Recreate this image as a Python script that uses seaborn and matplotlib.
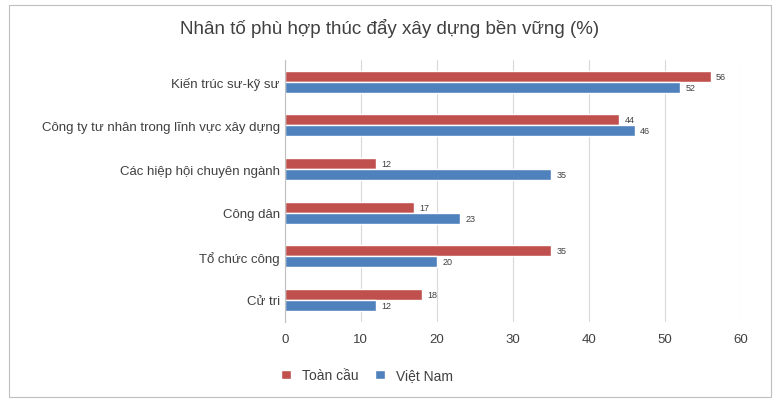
import matplotlib
matplotlib.use("Agg")
import matplotlib.pyplot as plt
import seaborn as sns
import pandas as pd

categories = ["Kiến trúc sư-kỹ sư", "Công ty tư nhân trong lĩnh vực xây dựng",
              "Các hiệp hội chuyên ngành", "Công dân", "Tổ chức công", "Cử tri"]
toan_cau = [56, 44, 12, 17, 35, 18]
viet_nam = [52, 46, 35, 23, 20, 12]
series = ["Toàn cầu", "Việt Nam"]

df = pd.DataFrame({
    "cat": categories * 2,
    "val": toan_cau + viet_nam,
    "series": [series[0]] * 6 + [series[1]] * 6,
})

sns.set_style("white")
plt.rcParams["font.family"] = ["Arial", "Liberation Sans", "DejaVu Sans"]

fig = plt.figure(figsize=(7.8, 4.06), dpi=100)
ax = fig.add_axes([0.365, 0.205, 0.585, 0.645])
sns.barplot(data=df, x="val", y="cat", hue="series", orient="h",
            palette=["#C0504D", "#4F81BD"], saturation=1, width=0.5, ax=ax, legend=True)

for cont in ax.containers:
    ax.bar_label(cont, fmt="%d", padding=4, fontsize=6.5, color="#404040")

ax.set_xlim(0, 60)
ax.set_xticks(range(0, 61, 10))
ax.xaxis.grid(True, color="#d9d9d9", linewidth=0.8)
ax.set_axisbelow(True)
for s in ["top", "right", "bottom"]:
    ax.spines[s].set_visible(False)
ax.spines["left"].set_color("#bfbfbf")
ax.set_xlabel("")
ax.set_ylabel("")
ax.tick_params(axis="both", labelsize=9.5, colors="#404040", length=0)
ax.tick_params(axis="x", pad=8)

ax.legend(loc="upper center", bbox_to_anchor=(0.18, -0.13), ncol=2, frameon=False,
          fontsize=10, handlelength=0.7, handleheight=0.7, columnspacing=1.2,
          labelcolor="#404040")

fig.text(0.5, 0.93, "Nhân tố phù hợp thúc đẩy xây dựng bền vững (%)",
         ha="center", va="center", fontsize=13.5, color="#404040")
fig.patches.append(plt.Rectangle((0.012, 0.02), 0.976, 0.965, transform=fig.transFigure,
                                 fill=False, edgecolor="#bfbfbf", linewidth=0.8))
fig.savefig("out.png", dpi=100)
